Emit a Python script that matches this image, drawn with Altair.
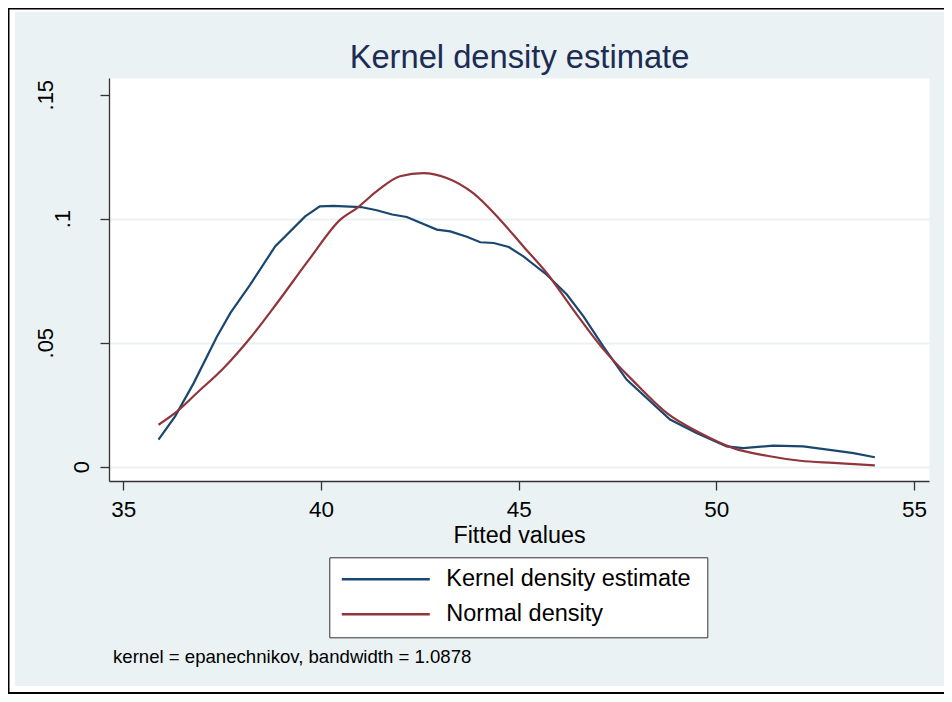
import altair as alt
import pandas as pd

# ---- data ----
kernel_x = [35.89, 36.31, 36.78, 37.37, 37.71, 38.21, 38.84, 39.60, 39.97, 40.31,
            41.01, 41.41, 41.80, 42.17, 42.93, 43.27, 43.69, 44.03, 44.37, 44.75,
            45.12, 45.71, 46.22, 46.64, 47.14, 47.73, 48.83, 49.50, 50.26, 50.68,
            51.44, 52.20, 52.96, 53.47, 54.01]
kernel_y = [0.0109, 0.0203, 0.0337, 0.0525, 0.0620, 0.0734, 0.0888, 0.1009, 0.1050, 0.1052,
            0.1047, 0.1034, 0.1017, 0.1007, 0.0956, 0.0949, 0.0927, 0.0905, 0.0902, 0.0886,
            0.0848, 0.0774, 0.0694, 0.0606, 0.0485, 0.0351, 0.0190, 0.0136, 0.0082, 0.0075,
            0.0085, 0.0082, 0.0066, 0.0055, 0.0038]

normal_x = [35.89, 36.36, 36.86, 37.54, 38.21, 38.89, 39.73, 40.49, 40.91, 41.46,
            42.00, 42.59, 43.18, 43.85, 44.53, 45.12, 45.71, 46.38, 47.14, 47.91,
            48.75, 49.59, 50.43, 51.28, 52.12, 52.96, 54.01]
normal_y = [0.0169, 0.0223, 0.0297, 0.0398, 0.0519, 0.0660, 0.0842, 0.0996, 0.1043, 0.1117,
            0.1171, 0.1184, 0.1164, 0.1103, 0.0996, 0.0888, 0.0781, 0.0633, 0.0474, 0.0344,
            0.0216, 0.0136, 0.0075, 0.0044, 0.0024, 0.0015, 0.0005]

series_names = ["Kernel density estimate", "Normal density"]
series_colors = ["#1A476F", "#90353B"]
x_ticks = [35, 40, 45, 50, 55]
y_ticks = [0, 0.05, 0.1, 0.15]
title_text = "Kernel density estimate"
x_title = "Fitted values"
note_text = "kernel = epanechnikov, bandwidth = 1.0878"

df = pd.DataFrame({
    "x": kernel_x + normal_x,
    "y": kernel_y + normal_y,
    "series": [series_names[0]] * len(kernel_x) + [series_names[1]] * len(normal_x),
})

W, H = 820, 403
PAD_L, PAD_T, PAD_R, PAD_B = 101, 70, 15, 213
FONT = "Liberation Sans"
AXIS_COLOR = "#333333"
BG = "#EAF2F3"

x_enc = alt.X(
    "x:Q",
    scale=alt.Scale(domain=[34.638, 55.38], nice=False, zero=False),
    axis=alt.Axis(
        values=x_ticks, title=x_title, grid=False,
        tickSize=9, tickColor=AXIS_COLOR, tickWidth=1.3,
        domainColor=AXIS_COLOR, domainWidth=1.3,
        labelFont=FONT, labelFontSize=22.5, labelColor="black",
        labelBaseline="alphabetic", labelPadding=26.7, labelFlush=False,
        titleFont=FONT, titleFontSize=23.3, titleFontWeight="normal", titleColor="black",
        titleX=410, titleY=61, titleBaseline="alphabetic", titleAlign="center",
    ),
)

y_enc = alt.Y(
    "y:Q",
    scale=alt.Scale(domain=[-0.00577, 0.15673], nice=False, zero=False),
    axis=alt.Axis(
        values=y_ticks, title="",
        grid=True, gridColor=BG, gridWidth=2,
        gridOpacity={"condition": {"test": "datum.value > 0.12", "value": 0}, "value": 1},
        tickSize=9, tickColor=AXIS_COLOR, tickWidth=1.3,
        domainColor=AXIS_COLOR, domainWidth=1.3,
        labelExpr="datum.value == 0 ? '0' : substring(format(datum.value, '.2~f'), 1)",
        labelAngle=270, labelAlign="center", labelBaseline="alphabetic",
        labelPadding={"condition": [
            {"test": "datum.value == 0", "value": 12},
            {"test": "abs(datum.value - 0.1) < 0.000001", "value": 31},
        ], "value": 48},
        labelFont=FONT, labelFontSize=22, labelColor="black", labelFlush=False,
    ),
)

color_enc = alt.Color(
    "series:N",
    scale=alt.Scale(domain=series_names, range=series_colors),
    legend=alt.Legend(
        orient="none", legendX=220.3, legendY=479.3, direction="vertical",
        title=" ", titleOrient="right", titleFontSize=1, titlePadding=6,
        symbolType="stroke", symbolSize=7744, symbolStrokeWidth=2.5,
        clipHeight=22, rowPadding=11, padding=11, labelOffset=15, labelLimit=600,
        labelFont=FONT, labelFontSize=23.5, labelColor="black",
        fillColor="white", strokeColor=AXIS_COLOR,
    ),
)

base = alt.Chart(df).encode(x=x_enc, y=y_enc, color=color_enc)
kernel_line = base.transform_filter(
    alt.datum.series == series_names[0]
).mark_line(strokeWidth=2.2, interpolate="linear")
normal_line = base.transform_filter(
    alt.datum.series == series_names[1]
).mark_line(strokeWidth=2.2, interpolate="monotone")

# ---- outer frame of the graph window (white margin + thin black edge) ----
one = pd.DataFrame({"k": [0]})
LEFT, TOP, RIGHT, BOTTOM = -PAD_L, -PAD_T, W + PAD_R, H + PAD_B


def hrule(y, width, color):
    return alt.Chart(one).mark_rule(stroke=color, strokeWidth=width).encode(
        x=alt.value(LEFT), x2=alt.value(RIGHT), y=alt.value(y)
    )


def vrule(x, width, color):
    return alt.Chart(one).mark_rule(stroke=color, strokeWidth=width).encode(
        x=alt.value(x), y=alt.value(TOP), y2=alt.value(BOTTOM)
    )


frame = [
    vrule(LEFT + 3.5, 7, "white"),
    hrule(TOP + 2, 4, "white"),
    hrule(BOTTOM - 4, 8, "white"),
    vrule(LEFT + 0.75, 1.5, "black"),
    hrule(TOP + 0.75, 1.5, "black"),
    hrule(BOTTOM - 1, 2, "black"),
]

title = alt.Chart(pd.DataFrame({"t": [title_text]})).mark_text(
    align="center", baseline="alphabetic", font=FONT, fontSize=32.7, color="#1C2C55"
).encode(text="t:N", x=alt.value(W / 2 + 0.5), y=alt.value(-10))

note = alt.Chart(pd.DataFrame({"t": [note_text]})).mark_text(
    align="left", baseline="alphabetic", font=FONT, fontSize=18.6, color="black"
).encode(text="t:N", x=alt.value(4), y=alt.value(585))

chart = alt.layer(
    *frame, kernel_line, normal_line, title, note
).properties(
    width=W, height=H,
    autosize=alt.AutoSizeParams(type="none"),
    padding={"left": PAD_L, "top": PAD_T, "right": PAD_R, "bottom": PAD_B},
    background=BG,
).configure_view(fill="white", stroke="transparent")

chart.save("out.html", embed_options={"renderer": "svg", "actions": False})
